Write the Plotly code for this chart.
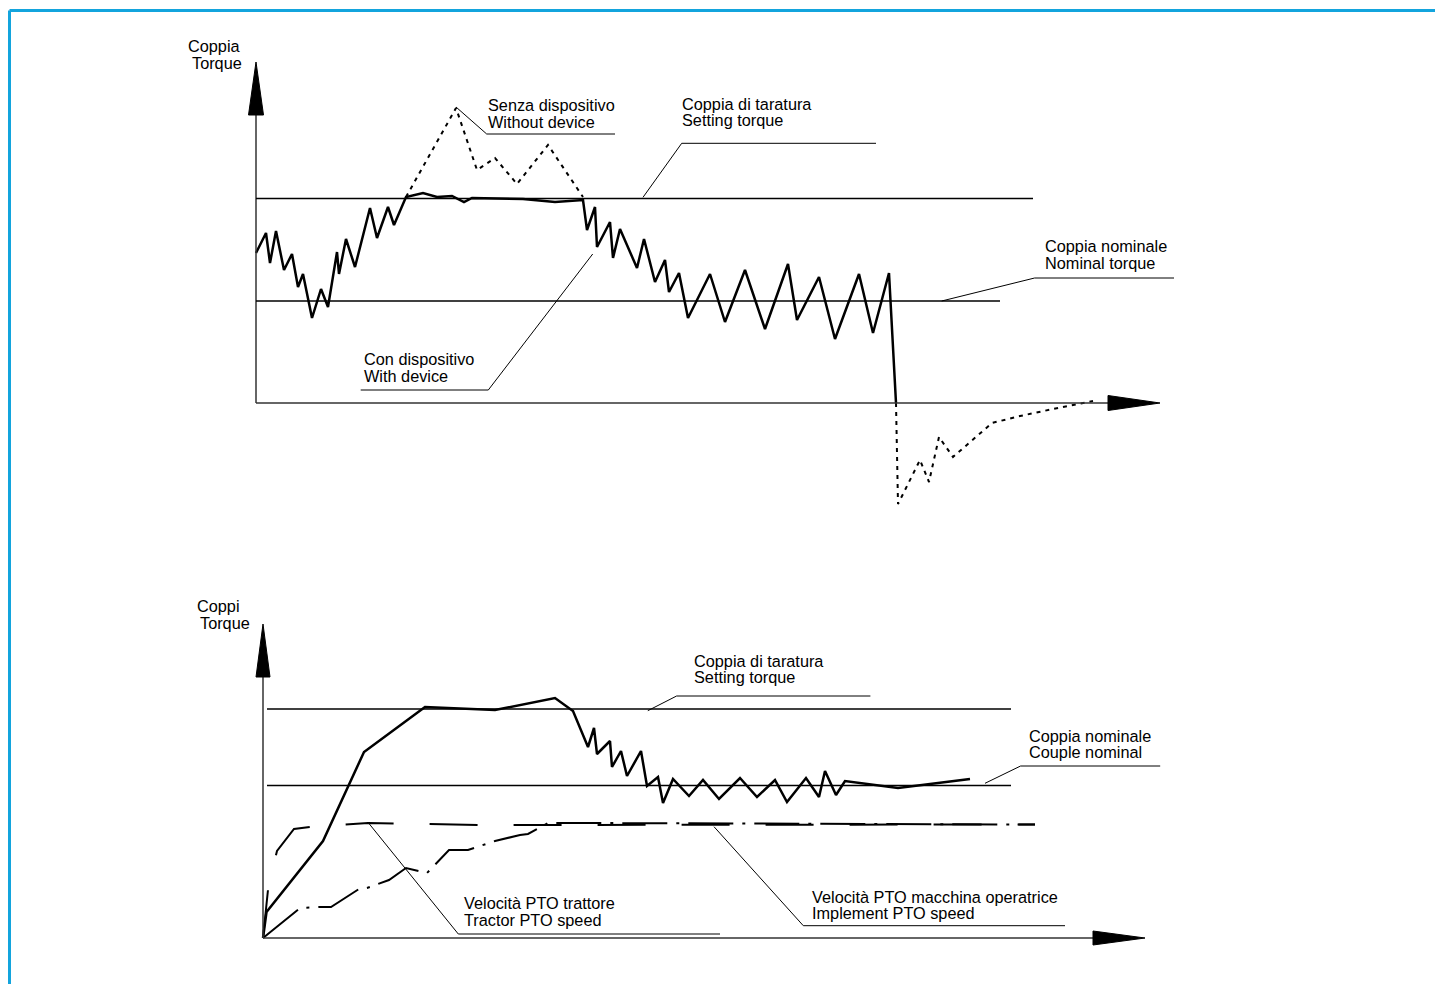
import plotly.graph_objects as go

# ---------------- top chart: torque vs time (units from the drawing) ----------------
top_t_with = [0, 10, 14, 20, 28, 36, 42, 47, 56, 65, 72, 81, 83, 90, 99, 114, 121, 132, 138,
              150, 167, 181, 196, 208, 216, 267, 299, 327, 331, 339, 341, 354, 357, 364, 381,
              388, 399, 409, 413, 423, 432, 454, 469, 489, 509, 532, 541, 563, 579, 603, 617,
              633, 640]
top_q_with = [150, 170, 140, 172, 133, 149, 116, 129, 85, 114, 96, 151, 129, 164, 136, 195, 165,
              196, 178, 206, 210, 206, 207, 201, 205, 204, 201, 203, 173, 196, 156, 181, 145,
              174, 135, 164, 121, 143, 111, 130, 85, 129, 81, 133, 74, 139, 83, 126, 64, 129,
              70, 130, 0]
# without device: the peak, then the undershoot after the drop (None = gap)
top_t_without = [150, 200, 221, 239, 261, 292, 327, None,
                 640, 642, 664, 673, 683, 697, 736, 764, 797, 837]
top_q_without = [206, 295, 233, 245, 219, 258, 206, None,
                 0, -101, -57, -79, -34, -54, -20, -13, -6, 2]
top_setting = 204.5
top_nominal = 102

# ---------------- bottom chart: torques and PTO speeds ----------------
bot_t_torque = [0, 3.5, 60, 101, 162, 232, 292, 310, 325, 331, 334, 347, 349, 358, 364, 378,
                384, 395, 400, 410, 426, 440, 456, 477, 494, 512, 524, 543, 556, 562, 573,
                582, 635, 707]
bot_q_torque = [0, 26, 97, 186, 231, 228, 240, 227, 191, 210, 184, 197, 171, 187, 162, 187,
                152, 161, 135, 159, 142, 158, 139, 160, 141, 158, 136, 160, 141, 167, 143,
                157, 150, 159]
bot_t_tractor = [0, 5.5, 14, 31, 47, 105, 217, 772]
bot_v_tractor = [0, 53, 87, 109, 111, 115, 113, 113.5]
bot_t_impl = [0, 37, 57, 68, 96, 104, 126, 143, 164, 186, 205, 232, 257, 265, 285, 314, 772]
bot_v_impl = [0, 30, 31, 31, 49, 50, 58, 70, 65, 88, 88, 97, 103, 104, 115, 115, 113.5]
bot_setting = 229
bot_nominal = 152.5

FONT = "Arial, Liberation Sans, sans-serif"
BLACK = "#000000"

fig = go.Figure()

fig.add_trace(go.Scatter(x=top_t_without, y=top_q_without, mode="lines",
                         line=dict(color=BLACK, width=2, dash="4px,5px"),
                         xaxis="x", yaxis="y", hoverinfo="skip"))
fig.add_trace(go.Scatter(x=top_t_with, y=top_q_with, mode="lines",
                         line=dict(color=BLACK, width=2.5),
                         xaxis="x", yaxis="y", hoverinfo="skip"))

fig.add_trace(go.Scatter(x=bot_t_impl, y=bot_v_impl, mode="lines",
                         line=dict(color=BLACK, width=2, dash="45px,9px,3px,9px"),
                         xaxis="x2", yaxis="y2", hoverinfo="skip"))
fig.add_trace(go.Scatter(x=bot_t_tractor, y=bot_v_tractor, mode="lines",
                         line=dict(color=BLACK, width=2, dash="48px,36px"),
                         xaxis="x2", yaxis="y2", hoverinfo="skip"))
fig.add_trace(go.Scatter(x=bot_t_torque, y=bot_q_torque, mode="lines",
                         line=dict(color=BLACK, width=2.5),
                         xaxis="x2", yaxis="y2", hoverinfo="skip"))

shapes = []


def axis_pair(xr, yr, x_end, x_tip, y_end, y_tip, half):
    # hand-drawn axes with big filled arrowheads
    ax = "#333333"
    shapes.append(dict(type="line", xref=xr, yref=yr, x0=0, y0=0, x1=x_end, y1=0,
                       line=dict(color=ax, width=1.5)))
    shapes.append(dict(type="line", xref=xr, yref=yr, x0=0, y0=0, x1=0, y1=y_end,
                       line=dict(color=ax, width=1.5)))
    shapes.append(dict(type="path", xref=xr, yref=yr,
                       path=f"M {x_end},{-half} L {x_tip},0 L {x_end},{half} Z",
                       fillcolor=BLACK, line=dict(color=BLACK, width=1)))
    shapes.append(dict(type="path", xref=xr, yref=yr,
                       path=f"M {-half},{y_end} L 0,{y_tip} L {half},{y_end} Z",
                       fillcolor=BLACK, line=dict(color=BLACK, width=1)))


axis_pair("x", "y", 852, 904, 288, 341, 7.5)
axis_pair("x2", "y2", 830, 882, 261, 314, 7)


def hline(xr, yr, x0, x1, y):
    shapes.append(dict(type="line", xref=xr, yref=yr, x0=x0, x1=x1, y0=y, y1=y,
                       line=dict(color=BLACK, width=1.6)))


hline("x", "y", 0, 777, top_setting)
hline("x", "y", 0, 744, top_nominal)
hline("x2", "y2", 4, 748, bot_setting)
hline("x2", "y2", 4, 748, bot_nominal)

# leader lines for the labels
leaders_top = [
    [(200, 296), (230.7, 269), (359, 269)],
    [(387, 205.7), (425.7, 259.7), (620, 259.7)],
    [(685.7, 102), (778.6, 125), (918, 125)],
    [(336.7, 149), (232.3, 13), (104.7, 13)],
]
leaders_bot = [
    [(384.8, 227.3), (413.6, 242), (607.4, 242)],
    [(722, 154.7), (757.6, 172), (897.2, 172)],
    [(105.3, 115.3), (195.3, 4), (457, 4)],
    [(451, 111.3), (540.3, 12.3), (802, 12.3)],
]
for xr, yr, group in (("x", "y", leaders_top), ("x2", "y2", leaders_bot)):
    for pts in group:
        path = "M " + " L ".join(f"{a},{b}" for a, b in pts)
        shapes.append(dict(type="path", xref=xr, yref=yr, path=path,
                           line=dict(color=BLACK, width=1)))

# blue frame of the page
FRAME = "#13a4dd"
shapes.append(dict(type="line", xref="paper", yref="paper", x0=9.5 / 1435, x1=1,
                   y0=1 - 10.5 / 984, y1=1 - 10.5 / 984, line=dict(color=FRAME, width=3)))
shapes.append(dict(type="line", xref="paper", yref="paper", x0=9.5 / 1435, x1=9.5 / 1435,
                   y0=0, y1=1 - 10.5 / 984, line=dict(color=FRAME, width=3)))

labels_top = [
    ("Coppia", -70, 357),
    ("Torque", -66, 340),
    ("Senza dispositivo", 230, 298),
    ("Without device", 230, 281.5),
    ("Coppia di taratura", 424, 299.5),
    ("Setting torque", 424, 283.5),
    ("Coppia nominale", 787, 157),
    ("Nominal torque", 787, 140),
    ("Con dispositivo", 106, 44),
    ("With device", 106, 27),
]
labels_bot = [
    ("Coppi", -68, 332),
    ("Torque", -65, 315),
    ("Coppia di taratura", 429, 277),
    ("Setting torque", 429, 261),
    ("Coppia nominale", 764, 202),
    ("Couple nominal", 764, 186),
    ("Velocità PTO trattore", 199, 35),
    ("Tractor PTO speed", 199, 18),
    ("Velocità PTO macchina operatrice", 547, 41),
    ("Implement PTO speed", 547, 25),
]
annotations = []
for xr, yr, group in (("x", "y", labels_top), ("x2", "y2", labels_bot)):
    for text, x, y in group:
        annotations.append(dict(text=text, x=x, y=y, xref=xr, yref=yr, showarrow=False,
                                xanchor="left", yanchor="middle",
                                font=dict(family=FONT, size=16.3, color=BLACK)))

hidden = dict(visible=False, showgrid=False, zeroline=False, fixedrange=True)
fig.update_layout(
    width=1435, height=984,
    margin=dict(l=0, r=0, t=0, b=0),
    paper_bgcolor="white", plot_bgcolor="white",
    showlegend=False,
    xaxis=dict(range=[-256, 1179], domain=[0, 1], **hidden),
    yaxis=dict(range=[-581, 403], domain=[0, 1], **hidden),
    xaxis2=dict(range=[-263, 1172], overlaying="x", anchor="y2", **hidden),
    yaxis2=dict(range=[-46, 938], overlaying="y", anchor="x2", **hidden),
    shapes=shapes,
    annotations=annotations,
)

fig.write_html("out.html", config={"displayModeBar": False},
               post_script="document.body.style.margin='0';")
